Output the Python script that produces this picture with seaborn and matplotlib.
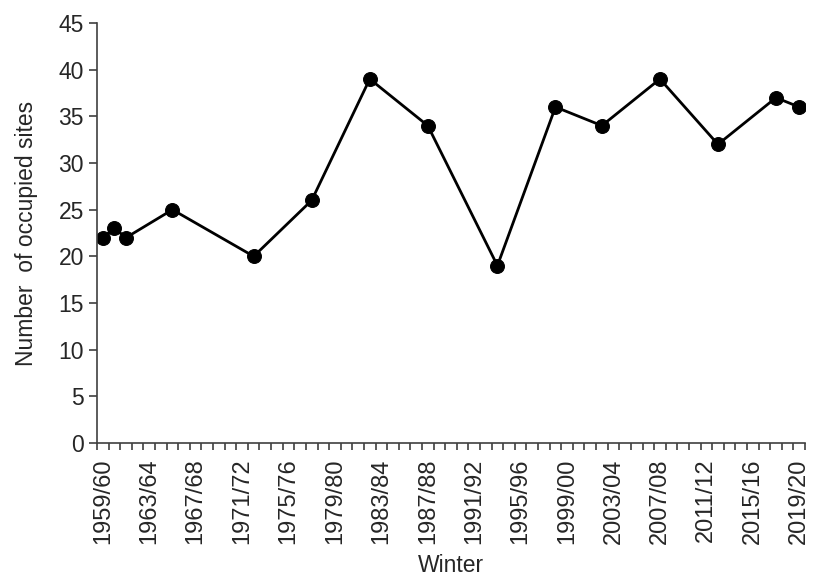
import numpy as np
import pandas as pd
import matplotlib
matplotlib.use("Agg")
import matplotlib.pyplot as plt
import seaborn as sns

# ==========================================
# DADOS
# ==========================================
INICIO = 1959
FIM = 2019
invernos = [f"{a}/{str(a + 1)[-2:]}" for a in range(INICIO, FIM + 1)]

anos_obs = [1959, 1960, 1961, 1965, 1972, 1977, 1982, 1987, 1993, 1998,
            2002, 2007, 2012, 2017, 2019]
sitios = [22, 23, 22, 25, 20, 26, 39, 34, 19, 36, 34, 39, 32, 37, 36]

rotulos = [invernos[i] for i in range(0, len(invernos), 4)]

df = pd.DataFrame({
    'Inverno': [f"{a}/{str(a + 1)[-2:]}" for a in anos_obs],
    'Sitios': sitios,
})
df['pos'] = df['Inverno'].map({w: i for i, w in enumerate(invernos)})

# ==========================================
# GRAFICO
# ==========================================
sns.set_theme(style="white")
plt.rcParams['font.family'] = ['Liberation Sans', 'DejaVu Sans']
cor_eixo = '#404040'
cor_texto = '#262626'

fig = plt.figure(figsize=(8.3, 5.87), dpi=100)
ax = fig.add_axes([97 / 830, 144 / 587, 708 / 830, 420 / 587])

sns.lineplot(data=df, x='pos', y='Sitios', ax=ax, color='black',
             linewidth=2.0, marker='o', markersize=10,
             markeredgecolor='black', markerfacecolor='black')

ax.set_xlim(-0.5, len(invernos) - 0.5)
ax.set_ylim(0, 45)
ax.set_yticks(np.arange(0, 46, 5))

ax.set_xticks(range(0, len(invernos), 4))
ax.set_xticklabels(rotulos, rotation=90)
ax.set_xticks(np.arange(-0.5, len(invernos), 1), minor=True)
ax.tick_params(axis='x', which='major', length=0, pad=11,
               labelsize=17, labelcolor=cor_texto)
ax.tick_params(axis='x', which='minor', length=5, width=1.2,
               color=cor_eixo, direction='out', bottom=True)
ax.tick_params(axis='y', which='major', length=5.5, width=1.2,
               color=cor_eixo, direction='out', left=True, pad=4,
               labelsize=16.5, labelcolor=cor_texto)

for lado in ['top', 'right']:
    ax.spines[lado].set_visible(False)
for lado in ['left', 'bottom']:
    ax.spines[lado].set_color(cor_eixo)
    ax.spines[lado].set_linewidth(1.2)

ax.set_xlabel('Winter', fontsize=16.5, color=cor_texto, labelpad=7)
ax.set_ylabel('Number  of occupied sites', fontsize=16.5, color=cor_texto)
ax.yaxis.set_label_coords(-0.084, 0.5)

fig.savefig('out.png', dpi=100)
